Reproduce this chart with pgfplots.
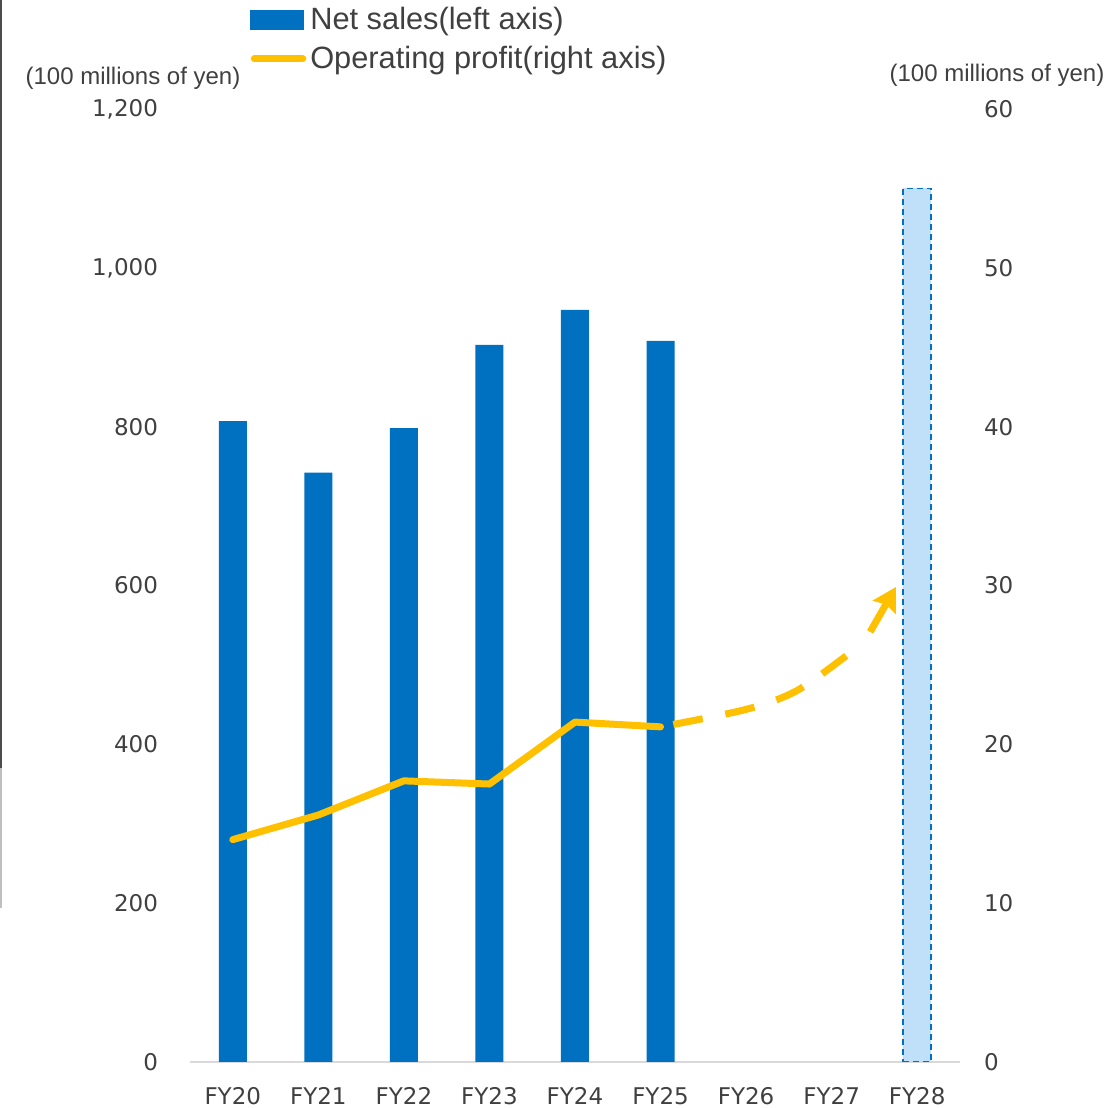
\documentclass[border=0pt]{standalone}
\usepackage{pgfplots}
\pgfplotsset{compat=1.18}
\usepackage{fontspec}
\setmainfont{DejaVu Sans}
\newfontfamily\lib{Liberation Sans}
\usetikzlibrary{arrows.meta}
\definecolor{barblue}{HTML}{0070C0}
\definecolor{lightblue}{HTML}{C0E0FA}
\definecolor{opyellow}{HTML}{FFC000}
\definecolor{txt}{HTML}{404040}
\begin{document}
\begin{tikzpicture}[x=1pt,y=1pt]
\path[use as bounding box] (0,0) rectangle (554.5,554);
\draw[black!70, line width=0.6pt] (0.5,554) -- (0.5,170);
\draw[black!25, line width=0.6pt] (0.5,170) -- (0.5,100);
\begin{axis}[
  at={(95pt,23pt)}, anchor=south west, scale only axis,
  width=385pt, height=476.5pt,
  xmin=-0.5, xmax=8.5, ymin=0, ymax=1200,
  xtick={0,...,8},
  xticklabels={FY20,FY21,FY22,FY23,FY24,FY25,FY26,FY27,FY28},
  ytick={0,200,...,1200},
  axis x line*=bottom, axis y line*=left,
  y axis line style={draw=none},
  x axis line style={draw=black!15, line width=1pt},
  major tick length=0pt,
  tick label style={font=\fontsize{11.5}{13}\selectfont, text=txt},
  yticklabel style={xshift=-12.5pt},
  xticklabel style={yshift=-9pt},
  /pgf/number format/1000 sep={,},
  /pgf/number format/assume math mode=true,
]
\addplot[ybar, bar width=14pt, bar shift=0pt, fill=barblue, draw=none] coordinates {(0,807)(1,742)(2,798)(3,903)(4,947)(5,908)};
\addplot[ybar, bar width=14pt, bar shift=0pt, fill=lightblue, draw=barblue, dash pattern=on 3pt off 2pt, line width=0.9pt] coordinates {(8,1100)};
\end{axis}
\begin{axis}[
  at={(95pt,23pt)}, anchor=south west, scale only axis,
  width=385pt, height=476.5pt,
  xmin=-0.5, xmax=8.5, ymin=0, ymax=60,
  axis x line=none, axis y line*=right,
  y axis line style={draw=none},
  ytick={0,10,...,60},
  major tick length=0pt,
  tick label style={font=\fontsize{11.5}{13}\selectfont, text=txt},
  yticklabel style={xshift=8.5pt},
  /pgf/number format/assume math mode=true,
  legend style={at={(0.0779,1.111)}, anchor=north west, draw=none, fill=none,
    font=\lib\fontsize{15.4}{18}\selectfont, text=txt, row sep=2.6pt, inner sep=0pt},
  legend cell align=left,
]
\addlegendimage{legend image code/.code={\fill[barblue] (0pt,-4.75pt) rectangle (26.5pt,4.75pt);}}
\addlegendentry{Net sales(left axis)}
\addlegendimage{legend image code/.code={\draw[opyellow, line width=3.5pt, line cap=round] (1.75pt,0pt) -- (26pt,0pt);}}
\addlegendentry{Operating profit(right axis)}
\addplot[forget plot, opyellow, line width=3.5pt, line cap=round, line join=round] coordinates {(0,14.0)(1,15.55)(2,17.7)(3,17.5)(4,21.4)(5,21.1)};
\addplot[forget plot, opyellow, line width=3.5pt, smooth, dash pattern=on 15pt off 11.5pt, dash phase=20pt] coordinates {(5,21.1)(6,22.2)(6.6,23.4)(7.25,25.9)};
\addplot[forget plot, opyellow, line width=3.5pt, -{Stealth[length=11.5pt, width=13pt, inset=1.5pt]}] coordinates {(7.45,27.08)(7.75,29.9)};
\end{axis}
\node[font=\lib\fontsize{12}{14}\selectfont, text=txt] at (66.5,515) {(100 millions of yen)};
\node[font=\lib\fontsize{12}{14}\selectfont, text=txt] at (498.5,516.5) {(100 millions of yen)};
\end{tikzpicture}
\end{document}
